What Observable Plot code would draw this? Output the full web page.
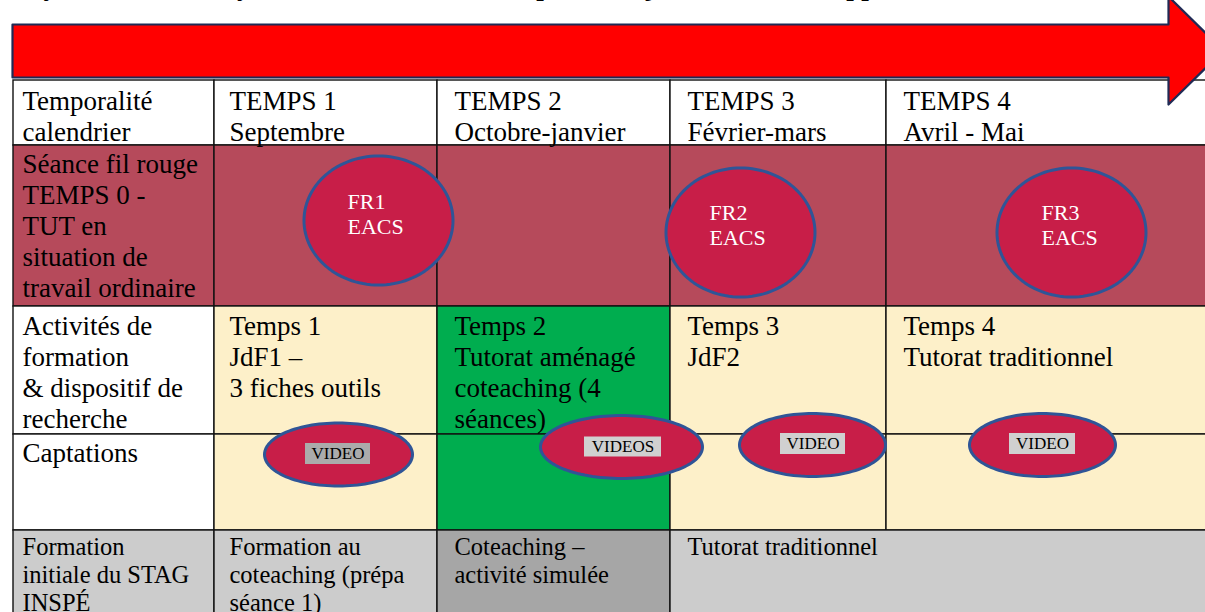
<!DOCTYPE html>
<html><head><meta charset="utf-8">
<script src="https://cdn.jsdelivr.net/npm/d3@7"></script>
<script src="https://cdn.jsdelivr.net/npm/@observablehq/plot@0.6"></script>
<style>html,body{margin:0;padding:0;background:#fff;overflow:hidden}
svg text{font-family:'Liberation Serif','DejaVu Serif',serif !important}</style>
</head><body><div id="chart"></div>
<script>
// ---------- content ----------
const title = "Synthèse de l’analyse des données : un exemple de trajectoire de développement du tuteur";
const rowLabels = [
  "Temporalité\ncalendrier",
  "Séance fil rouge\nTEMPS 0 -\nTUT en\nsituation de\ntravail ordinaire",
  "Activités de\nformation\n& dispositif de\nrecherche",
  "Captations",
  "Formation\ninitiale du STAG\nINSPÉ"
];
const periods = ["TEMPS 1\nSeptembre", "TEMPS 2\nOctobre-janvier", "TEMPS 3\nFévrier-mars", "TEMPS 4\nAvril - Mai"];
const activities = ["Temps 1\nJdF1 –\n3 fiches outils", "Temps 2\nTutorat aménagé\ncoteaching (4\nséances)", "Temps 3\nJdF2", "Temps 4\nTutorat traditionnel"];
const formations = ["Formation au\ncoteaching (prépa\nséance 1)", "Coteaching –\nactivité simulée", "Tutorat traditionnel"];
const filRouge = ["FR1\nEACS", "FR2\nEACS", "FR3\nEACS"];
const captations = ["VIDEO", "VIDEOS", "VIDEO", "VIDEO"];

// ---------- layout ----------
const W = 1205, H = 612;
const colEdges = [13, 214, 437, 670, 886, 1215];
const rowEdges = [80, 145, 306, 434, 530, 660];
const textX = [22, 229, 454, 687, 903];
const firstBaseline = [109, 172, 334, 461, 554];
const rowFont = [27, 27, 27, 27, 24.5];
const LH = 1.15;
const C = {white:"#ffffff", wine:"#b64a5b", yellow:"#fdf0c9", green:"#00ad4f", gray:"#cccccc", dgray:"#a6a6a6"};
const rowFills = [
  [C.white, C.white, C.white, C.white, C.white],
  [C.wine, C.wine, C.wine, C.wine, C.wine],
  [C.white, C.yellow, C.green, C.yellow, C.yellow],
  [C.white, C.yellow, C.green, C.yellow, C.yellow],
  [C.gray, C.gray, C.dgray, C.gray]
];
const formationSpans = [[0,1],[1,2],[2,3],[3,5]];

const cells = [], texts = [];
function addText(r, c, t) {
  const fs = rowFont[r];
  texts.push({x: textX[c], y: firstBaseline[r] - 0.71 * LH * fs, text: t, fs});
}
for (let r = 0; r < 5; r++) {
  if (r < 4) {
    for (let c = 0; c < 5; c++) cells.push({x1: colEdges[c], x2: colEdges[c+1], y1: rowEdges[r], y2: rowEdges[r+1], fill: rowFills[r][c]});
  } else {
    formationSpans.forEach(([a,b], i) => cells.push({x1: colEdges[a], x2: colEdges[b], y1: rowEdges[r], y2: rowEdges[r+1], fill: rowFills[r][i]}));
  }
  addText(r, 0, rowLabels[r]);
}
periods.forEach((t, i) => addText(0, i+1, t));
activities.forEach((t, i) => addText(2, i+1, t));
formations.forEach((t, i) => addText(4, i+1, t));

const frLayout = [{cx:378, cy:220, tx:347, b:208}, {cx:740, cy:232, tx:709, b:219}, {cx:1071, cy:232, tx:1041, b:219}];
const capLayout = [
  {cx:338, cy:454, rx:74, bx:337.5, by:453.5, bw:65, bh:21, bf:"#ababab"},
  {cx:621, cy:446.5, rx:81, bx:622.5, by:446.5, bw:77, bh:20, bf:"#d0d0d0"},
  {cx:812, cy:444.5, rx:73, bx:812.5, by:443.5, bw:65, bh:21, bf:"#d0d0d0"},
  {cx:1042, cy:444.5, rx:73, bx:1042, by:443.5, bw:66, bh:21, bf:"#d0d0d0"}
];
function ellipse(id, cx, cy, rx, ry) {
  return d3.range(120).map(k => { const a = 2*Math.PI*k/120; return {id, x: cx + rx*Math.cos(a), y: cy + ry*Math.sin(a)}; });
}
const ellPts = [
  ...frLayout.flatMap((e, i) => ellipse("fr"+i, e.cx, e.cy, 74.5, 64.5)),
  ...capLayout.flatMap((e, i) => ellipse("cap"+i, e.cx, e.cy, e.rx, 31.5))
];
const frTexts = filRouge.map((t, i) => ({x: frLayout[i].tx, y: frLayout[i].b - 0.71*1.14*22, text: t}));
const capBoxes = captations.map((t, i) => {const e = capLayout[i]; return {x1: e.bx - e.bw/2, x2: e.bx + e.bw/2, y1: e.by - e.bh/2, y2: e.by + e.bh/2, fill: e.bf, x: e.bx, y: e.by, text: t};});

const arrow = [{x:12,y:24},{x:1168,y:24},{x:1168,y:-4},{x:1223,y:50},{x:1168,y:104},{x:1168,y:77},{x:12,y:77}];

const serif = "'Liberation Serif', 'DejaVu Serif', serif";
const chart = Plot.plot({
  width: W, height: H, margin: 0,
  x: {domain: [0, W], range: [0, W], axis: null},
  y: {domain: [0, H], range: [0, H], axis: null},
  color: {type: "identity"},
  style: {background: "#fff", fontFamily: serif},
  marks: [
    Plot.text([title], {x: 28, y: -6, text: d => d, textAnchor: "start", lineAnchor: "bottom", fontSize: 27, fontWeight: "bold", fontFamily: serif, fill: "#000"}),
    Plot.rect(cells, {x1: "x1", x2: "x2", y1: "y1", y2: "y2", fill: "fill", stroke: "#111", strokeWidth: 1.4}),
    Plot.text(texts, {x: "x", y: "y", text: "text", textAnchor: "start", lineAnchor: "top", fontSize: d => d.fs, lineHeight: LH, fontFamily: serif, fill: "#000"}),
    Plot.line(arrow, {x: "x", y: "y", curve: "linear-closed", fill: "#ff0000", stroke: "#1f2a55", strokeWidth: 2.2}),
    Plot.line(ellPts, {x: "x", y: "y", z: "id", curve: "linear-closed", fill: "#c81e48", stroke: "#2f5597", strokeWidth: 3}),
    Plot.text(frTexts, {x: "x", y: "y", text: "text", textAnchor: "start", lineAnchor: "top", fontSize: 22, lineHeight: 1.14, fontFamily: serif, fill: "#fff"}),
    Plot.rect(capBoxes, {x1: "x1", x2: "x2", y1: "y1", y2: "y2", fill: "fill"}),
    Plot.text(capBoxes, {x: "x", y: "y", text: "text", textAnchor: "middle", lineAnchor: "middle", fontSize: 17, fontFamily: serif, fill: "#000"})
  ]
});
document.getElementById("chart").appendChild(chart);
</script></body></html>
